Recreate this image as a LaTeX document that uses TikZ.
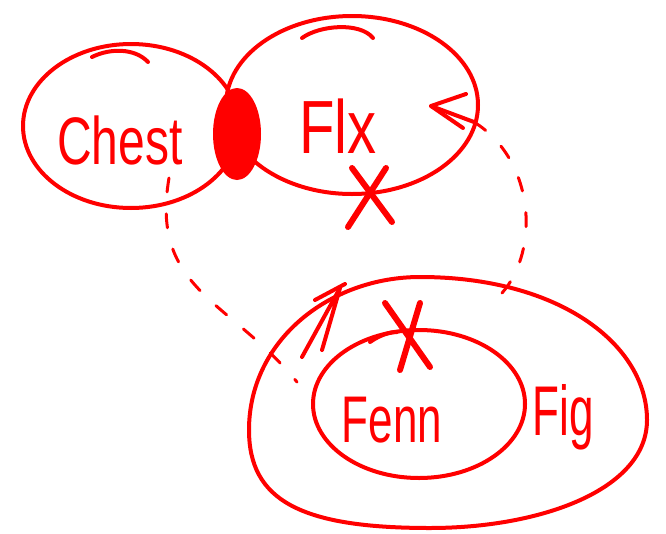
\documentclass[tikz,border=0pt]{standalone}
\usepackage{fontspec}
\setmainfont{Liberation Sans}
\usetikzlibrary{shapes.geometric,arrows.meta}
\begin{document}
\begin{tikzpicture}[x=1pt,y=-1pt,line width=4pt,red,line cap=round,line join=round,
  ring/.style={ellipse,draw=red,line width=4pt,inner sep=0pt},
  lbl/.style={text=red,inner sep=0pt},
  dashline/.style={draw=red,line width=3pt,dash pattern=on 14pt off 22pt},
  tipline/.style={draw=red,line width=4pt},
  xmark/.style={draw=red,line width=6pt}]
\useasboundingbox (0,0) rectangle (666,533);
% sets
\node[ring,minimum width=216pt,minimum height=164pt] (chest) at (131,126) {};
\node[ring,minimum width=252pt,minimum height=178pt] (flx) at (352,105) {};
\node[ring,minimum width=212pt,minimum height=148pt] (fenn) at (419,404) {};
\draw[red,line width=4pt] (420,277) .. controls (560,277) and (647,345) .. (647,420)
  .. controls (647,490) and (540,528) .. (430,528)
  .. controls (300,528) and (249,500) .. (249,430)
  .. controls (249,340) and (330,277) .. cycle;
\coordinate (fig) at (447,402);
% overlap blob
\node[ellipse,fill=red,minimum width=48pt,minimum height=92pt,inner sep=0pt] (blob) at (237,134) {};
% labels
\node[lbl,font=\fontsize{48}{48}\selectfont] (chestlbl) at (120,140) {\scalebox{1}[1.4]{Chest}};
\node[lbl,font=\fontsize{58}{58}\selectfont] (flxlbl) at (338,126) {\scalebox{1}[1.3]{Flx}};
\node[lbl,font=\fontsize{44}{44}\selectfont] (fennlbl) at (392,420) {\scalebox{1}[1.5]{Fenn}};
\node[lbl,font=\fontsize{44}{44}\selectfont] (figlbl) at (563,417) {\scalebox{1}[1.6]{Fig}};
% small tick arcs
\draw (92,57) .. controls (110,48) and (135,48) .. (148,62);
\draw (302,38) .. controls (320,25) and (360,22) .. (373,38);
\draw (370,342) .. controls (380,335) and (390,332) .. (397,332);
% X marks
\draw[xmark] (352,168) -- (392,222);
\draw[xmark] (386,168) -- (348,227);
\draw[xmark] (385,303) -- (430,367);
\draw[xmark] (420,303) -- (400,370);
% dashed connector Fig -> Flx with open arrowhead
\coordinate (figtop) at (502,293);
\coordinate (flxin) at (474,122);
\coordinate (flxtip) at (431,106);
\draw[dashline] (figtop) .. controls (540,250) and (535,160) .. (flxin);
\draw[tipline] (466,94) -- (flxtip) -- (463,128);
\draw[tipline] (flxtip) -- (flxin);
% dashed connector Chest -> Fig
\coordinate (chestout) at (169,178);
\coordinate (figin) at (297,382);
\draw[dashline] (chestout) .. controls (150,290) and (230,300) .. (figin);
\draw[tipline] (302,357) -- (340,288) -- (322,350);
\draw[tipline] (315,300) -- (345,284);
\end{tikzpicture}
\end{document}
